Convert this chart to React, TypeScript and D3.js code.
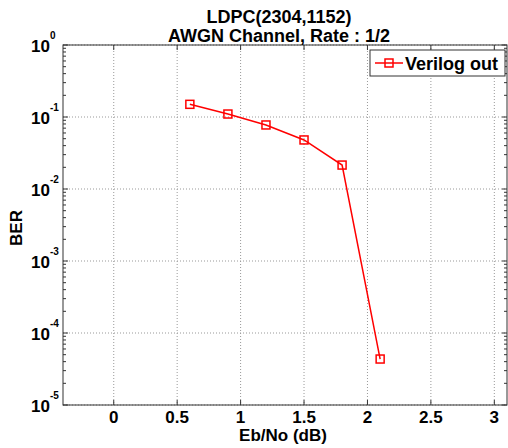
import React from "react";
import * as d3 from "d3";

const ebno = [0.6, 0.9, 1.2, 1.5, 1.8, 2.1];
const ber = [0.15, 0.11, 0.0775, 0.048, 0.0215, 4.35e-5];
const xTicks = [0, 0.5, 1, 1.5, 2, 2.5, 3];
const yExps = [0, -1, -2, -3, -4, -5];
const titleLines = ["LDPC(2304,1152)", "AWGN Channel, Rate : 1/2"];
const seriesName = "Verilog out";

const W = 508, H = 448;
const L = 63, R = 507, T = 45, B = 405;
const FONT = "'Liberation Sans', Arial, sans-serif";

export default function App() {
  const x = d3.scaleLinear().domain([-0.4, 3.1]).range([L, R]);
  const y = d3.scaleLog().domain([1e-5, 1]).range([B, T]);
  const line = d3.line<number>().x((_, i) => x(ebno[i])).y((d) => y(d));
  const minor: number[] = [];
  for (let e = -5; e < 0; e++) for (let m = 2; m <= 9; m++) minor.push(m * Math.pow(10, e));
  const red = "#ff0000";
  const ax = "#333";
  const tc = "#000";
  return (
    <svg width={W} height={H} style={{ position: "fixed", left: 0, top: 0, background: "#fff" }} fontFamily={FONT} fontWeight="bold">
      <rect x={0} y={0} width={W} height={H} fill="#fff" />
      {xTicks.map((t) => (
        <line key={"gx" + t} x1={x(t)} x2={x(t)} y1={T} y2={B} stroke="#999" strokeDasharray="1,2" strokeWidth={1} />
      ))}
      {yExps.map((e) => (
        <line key={"gy" + e} x1={L} x2={R} y1={y(Math.pow(10, e))} y2={y(Math.pow(10, e))} stroke="#999" strokeDasharray="1,2" strokeWidth={1} />
      ))}
      {xTicks.map((t) => (
        <g key={"tx" + t}>
          <line x1={x(t)} x2={x(t)} y1={B} y2={B - 5} stroke={ax} />
          <line x1={x(t)} x2={x(t)} y1={T} y2={T + 5} stroke={ax} />
          <text x={x(t)} y={423} textAnchor="middle" fontSize={17} fill={tc}>{t}</text>
        </g>
      ))}
      {yExps.map((e) => (
        <g key={"ty" + e}>
          <line x1={L} x2={L + 5} y1={y(Math.pow(10, e))} y2={y(Math.pow(10, e))} stroke={ax} />
          <line x1={R} x2={R - 5} y1={y(Math.pow(10, e))} y2={y(Math.pow(10, e))} stroke={ax} />
          <text x={50} y={y(Math.pow(10, e)) + 6.5} textAnchor="end" fontSize={17} fill={tc}>10</text>
          <text x={50} y={y(Math.pow(10, e)) - 6.5} textAnchor="start" fontSize={10} fill={tc}>{e}</text>
        </g>
      ))}
      {minor.map((v, i) => (
        <g key={"mn" + i}>
          <line x1={L} x2={L + 3} y1={y(v)} y2={y(v)} stroke={ax} />
          <line x1={R} x2={R - 3} y1={y(v)} y2={y(v)} stroke={ax} />
        </g>
      ))}
      <rect x={L} y={T} width={R - L} height={B - T} fill="none" stroke={ax} strokeWidth={1} />
      <path d={line(ber) || ""} fill="none" stroke={red} strokeWidth={1.5} />
      {ber.map((v, i) => (
        <rect key={"m" + i} x={x(ebno[i]) - 4} y={y(v) - 4} width={8} height={8} fill="none" stroke={red} strokeWidth={1.5} />
      ))}
      <rect x={370} y={50} width={135} height={26} fill="#fff" stroke={ax} strokeWidth={1} />
      <line x1={375} x2={403} y1={63} y2={63} stroke={red} strokeWidth={1.5} />
      <rect x={385} y={59} width={8} height={8} fill="none" stroke={red} strokeWidth={1.5} />
      <text x={405} y={69.5} fontSize={18} fill={tc}>{seriesName}</text>
      <text x={279} y={22.5} textAnchor="middle" fontSize={18} fill={tc}>{titleLines[0]}</text>
      <text x={279} y={41.5} textAnchor="middle" fontSize={18} fill={tc}>{titleLines[1]}</text>
      <text x={283} y={441} textAnchor="middle" fontSize={17} fill={tc}>Eb/No (dB)</text>
      <text transform={`translate(22,${(T + B) / 2 + 3}) rotate(-90)`} textAnchor="middle" fontSize={17} fill={tc}>BER</text>
    </svg>
  );
}
